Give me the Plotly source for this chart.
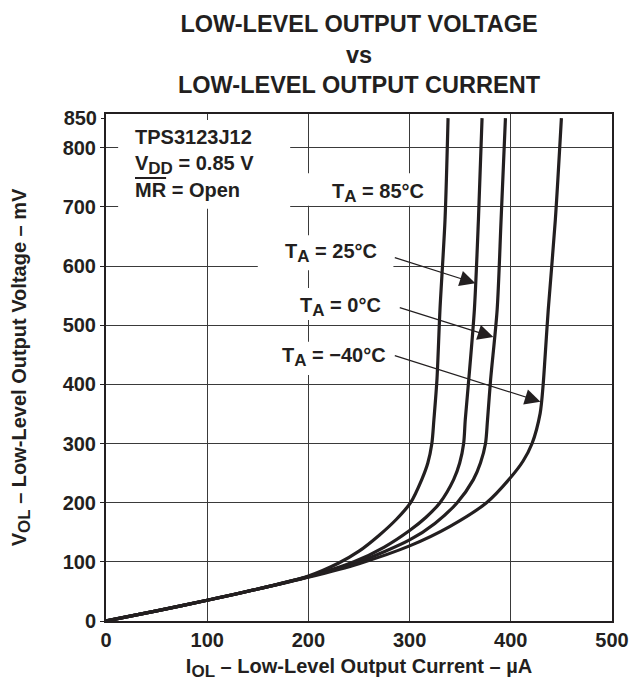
import plotly.graph_objects as go

# ---- data ----
series_names = ["TA = 85°C", "TA = 25°C", "TA = 0°C", "TA = -40°C"]

i_85 = [0, 50, 100, 150, 200, 230, 250, 270, 287, 301, 312, 318, 322, 324, 327, 330, 335, 338]
v_85 = [0, 17, 35, 54, 76, 98, 118, 145, 172, 200, 239, 267, 300, 340, 407, 526, 678, 850]

i_25 = [0, 50, 100, 150, 200, 245, 275, 300, 316, 330, 343.5, 349.5, 353.4, 355, 358.4, 364, 368, 371.6]
v_25 = [0, 17, 35, 54, 75, 100, 125, 153, 175, 200, 239, 267, 300, 340, 407, 526, 678, 850]

i_0 = [0, 50, 100, 150, 200, 250, 300, 325, 347, 363, 370, 375, 377, 380, 386.5, 390.4, 394.7]
v_0 = [0, 17, 35, 54, 75, 100, 137, 165, 200, 239, 267, 300, 340, 407, 526, 678, 850]

i_m40 = [0, 50, 100, 150, 200, 250, 300, 340, 376, 400, 412, 421, 429, 432, 434, 437, 444, 450]
v_m40 = [0, 17, 35, 54, 74, 97, 127, 160, 200, 243, 270, 300, 351, 400, 450, 526, 678, 850]

x_ticks = [0, 100, 200, 300, 400, 500]
y_ticks = [0, 100, 200, 300, 400, 500, 600, 700, 800]
y_top_tick = [850]

INK = "#231f20"
FONT = "Liberation Sans, Arial, Helvetica, sans-serif"

fig = go.Figure()
for xs, ys in [(i_85, v_85), (i_25, v_25), (i_0, v_0), (i_m40, v_m40)]:
    fig.add_trace(go.Scatter(x=xs, y=ys, mode="lines",
                             line=dict(color=INK, width=3.2, shape="spline", smoothing=0.8),
                             showlegend=False, hoverinfo="skip"))
fig.add_trace(go.Scatter(x=[], y=[], yaxis="y2", showlegend=False))

YMAX = 857
tickfont = dict(family=FONT, size=20, color=INK, weight="bold")


def sub(t):
    return '<sub><span style="font-size:17px">' + t + '</span></sub>'


fig.update_layout(
    width=630, height=681,
    margin=dict(l=106, r=18, t=114, b=60, autoexpand=False),
    paper_bgcolor="white", plot_bgcolor="white",
    font=dict(family=FONT, color=INK),
    title=dict(text="<b>LOW-LEVEL OUTPUT VOLTAGE<br>vs<br>LOW-LEVEL OUTPUT CURRENT</b>",
               x=0.5, xref="paper", xanchor="center",
               y=0.953, yref="container", yanchor="top",
               font=dict(family=FONT, size=23.5, color=INK)),
    xaxis=dict(range=[0, 500], tickvals=x_ticks, showgrid=True, gridcolor="#3a3a3a", gridwidth=1,
               showline=True, linecolor=INK, linewidth=2, mirror=True, zeroline=False,
               ticks="", tickfont=tickfont, automargin=False,
               title=dict(text="<b>I" + sub("OL") + " – Low-Level Output Current – µA</b>",
                          font=dict(family=FONT, size=20, color=INK), standoff=9)),
    yaxis=dict(range=[0, YMAX], tickvals=y_ticks, showgrid=True, gridcolor="#3a3a3a", gridwidth=1,
               showline=True, linecolor=INK, linewidth=2, mirror=True, zeroline=False,
               ticks="outside", ticklen=4, tickcolor=INK, tickfont=tickfont, automargin=False,
               title=dict(text="<b>V" + sub("OL") + " – Low-Level Output Voltage – mV</b>",
                          font=dict(family=FONT, size=20, color=INK), standoff=31)),
    yaxis2=dict(range=[0, YMAX], tickvals=y_top_tick, overlaying="y", anchor="x", side="left",
                showgrid=False, showline=False, zeroline=False, automargin=False,
                ticks="outside", ticklen=4, tickcolor=INK, tickfont=tickfont),
)

# white label backgrounds (between gridlines and traces)
boxes = [
    (12, 182, 697, 847),
    (199, 333, 702, 757),
    (150, 284, 593, 652),
    (172, 289, 509, 563),
    (154, 284, 416, 472),
]
for x0, x1, y0, y1 in boxes:
    fig.add_shape(type="rect", xref="x", yref="y", x0=x0, x1=x1, y0=y0, y1=y1,
                  fillcolor="white", line=dict(width=0), layer="between")

lab_font = dict(family=FONT, size=20, color=INK)
labels = [
    (26.7, 818, "<b>TPS3123J12</b>", "left"),
    (26.7, 771, "<b>V" + sub("DD") + " = 0.85 V</b>", "left"),
    (26.7, 729, "<b><span style=\"text-decoration:overline\">MR</span> = Open</b>", "left"),
    (269, 724, "<b>T" + sub("A") + " = 85°C</b>", "center"),
    (222.5, 622, "<b>T" + sub("A") + " = 25°C</b>", "center"),
    (231.5, 530, "<b>T" + sub("A") + " = 0°C</b>", "center"),
    (225, 446, "<b>T" + sub("A") + " = −40°C</b>", "center"),
]
for x, y, t, anc in labels:
    fig.add_annotation(x=x, y=y, xref="x", yref="y", text=t, showarrow=False,
                       xanchor=anc, yanchor="middle", font=lab_font)

arrows = [
    ((283.9, 615), (365, 571)),
    ((288.8, 530.5), (382.8, 480)),
    ((283.9, 449.5), (429.3, 370.6)),
]
for (sx, sy), (tx, ty) in arrows:
    fig.add_annotation(x=tx, y=ty, xref="x", yref="y", ax=sx, ay=sy, axref="x", ayref="y",
                       text="", showarrow=True, arrowhead=2, arrowsize=2.6, arrowwidth=1.2,
                       arrowcolor=INK, standoff=0)

fig.write_html("out.html", config={"displayModeBar": False},
               post_script="document.body.style.margin='0';document.documentElement.style.margin='0';")
